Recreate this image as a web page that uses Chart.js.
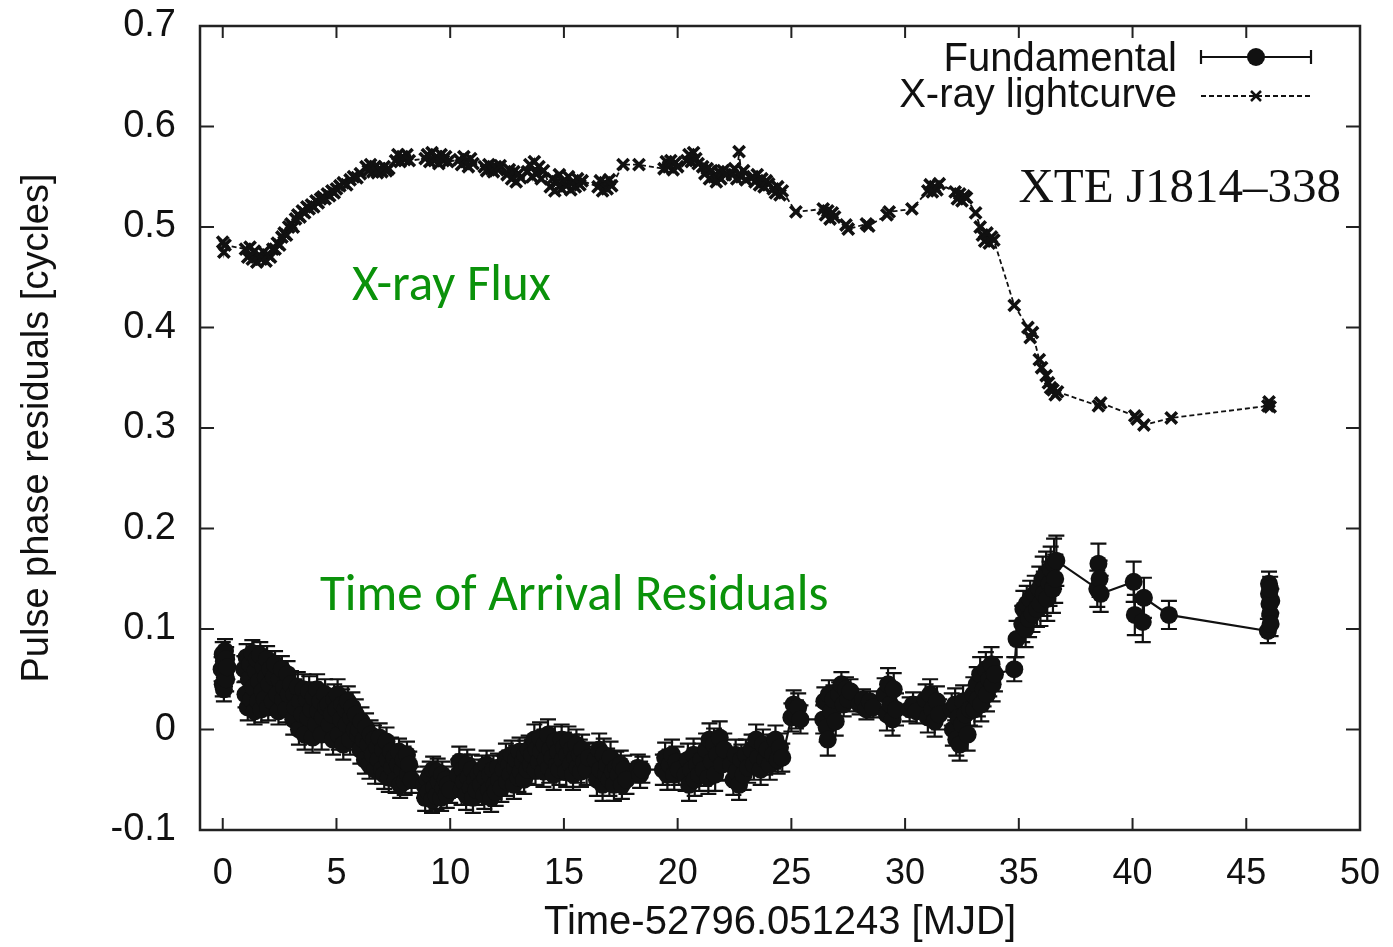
<!DOCTYPE html>
<html>
<head>
<meta charset="utf-8">
<script src="https://cdn.jsdelivr.net/npm/chart.js@4.4.1/dist/chart.umd.min.js"></script>
<style>
  html, body { margin: 0; padding: 0; background: #fff; }
  #wrap { width: 1393px; height: 947px; }
</style>
</head>
<body>
<div id="wrap"><canvas id="chart" width="1393" height="947"></canvas></div>
<script>
// Fundamental: pulse phase residuals (time, phase, error), one row per cluster
const fundTime = [
  -0.05, 0.0, 0.0, 0.05, 0.05, 0.1, 0.1, 0.15, 0.15, 0.2,
  0.95, 1.0, 1.05, 1.1, 1.15, 1.2, 1.25, 1.3, 1.35, 1.4, 1.45, 1.5, 1.55, 1.6, 1.65, 1.7, 1.75, 1.8, 1.85, 1.9, 1.95, 2.0, 2.05, 2.1, 2.2, 2.25, 2.3, 2.4, 2.45, 2.5, 2.6, 2.65, 2.7, 2.8, 2.85, 2.9, 3.0,
  3.1, 3.15, 3.2, 3.3, 3.35, 3.4, 3.5, 3.55, 3.6, 3.7, 3.75, 3.8, 3.9, 3.95, 4.0, 4.1, 4.15, 4.2, 4.3, 4.35, 4.4, 4.5, 4.55,
  4.65, 4.7, 4.8, 4.85, 4.9, 5.0, 5.05, 5.1, 5.2, 5.25, 5.3, 5.4, 5.45, 5.5, 5.6, 5.65, 5.7, 5.8, 5.85, 5.95,
  6.0, 6.05, 6.1, 6.2, 6.25, 6.3, 6.4, 6.45, 6.5, 6.6, 6.65, 6.7, 6.8, 6.85, 6.9, 7.0, 7.05, 7.1, 7.2, 7.25, 7.3, 7.4, 7.45,
  7.55, 7.6, 7.7, 7.75, 7.8, 7.9, 7.95, 8.0, 8.1, 8.15, 8.2, 8.3,
  8.85, 8.9, 9.0, 9.05, 9.1, 9.2, 9.25, 9.3, 9.4, 9.45, 9.5, 9.6, 9.65, 9.7, 9.8, 9.85, 9.9, 10.0,
  10.35, 10.4, 10.5, 10.55, 10.6, 10.7, 10.75, 10.8, 10.9, 10.95, 11.0, 11.1, 11.15, 11.25,
  11.35, 11.4, 11.5, 11.55, 11.6, 11.7, 11.75, 11.8, 11.9, 11.95, 12.0, 12.1, 12.15, 12.25,
  12.35, 12.45, 12.5, 12.6, 12.65, 12.7, 12.8, 12.85, 12.9, 13.0, 13.05, 13.1, 13.2, 13.25, 13.3, 13.4, 13.45, 13.55,
  13.6, 13.7, 13.75, 13.8, 13.9, 13.95, 14.0, 14.1, 14.15, 14.2, 14.3, 14.35, 14.4, 14.5, 14.55, 14.6, 14.7, 14.75, 14.8, 14.9, 14.95, 15.0, 15.1, 15.15, 15.2, 15.3, 15.35, 15.4, 15.5, 15.55, 15.6, 15.7, 15.75, 15.8, 15.9, 16.0, 16.1,
  16.4, 16.45, 16.55, 16.6, 16.7, 16.75, 16.85, 16.9, 17.0, 17.05, 17.15, 17.2, 17.3,
  17.4, 17.5, 17.55, 17.65, 17.75,
  18.25, 18.35, 18.45,
  19.35, 19.45, 19.55, 19.65, 19.75, 19.85, 19.95, 20.05,
  20.35, 20.45, 20.5, 20.6, 20.7, 20.75, 20.85, 20.95, 21.05,
  21.15, 21.25, 21.35, 21.4, 21.5, 21.6, 21.65, 21.75, 21.85, 21.95, 22.05,
  22.35, 22.45, 22.55, 22.6, 22.7, 22.8, 22.9, 23.0, 23.1,
  23.25, 23.35, 23.45, 23.55, 23.65, 23.75, 23.85, 23.95, 24.05,
  24.2, 24.3, 24.4, 24.5, 24.6,
  25.0, 25.1, 25.2, 25.3, 25.4,
  26.4, 26.45, 26.55, 26.6, 26.65, 26.75, 26.85, 26.95,
  27.1, 27.2, 27.3, 27.4, 27.5, 27.6,
  28.0, 28.15, 28.3, 28.45, 28.6,
  29.1, 29.2, 29.25, 29.35, 29.45, 29.5, 29.6,
  30.2, 30.35, 30.5,
  30.9, 31.0, 31.1, 31.2, 31.3, 31.4, 31.5,
  32.05, 32.1, 32.2, 32.25, 32.35, 32.4, 32.5, 32.55, 32.65, 32.75, 32.85,
  33.0, 33.05, 33.15, 33.2, 33.3, 33.35, 33.45, 33.55, 33.6, 33.7, 33.8, 33.85, 33.95,
  34.8, 34.9,
  35.15, 35.2, 35.3, 35.35, 35.45, 35.5, 35.6, 35.7, 35.8,
  35.9, 35.95, 36.05, 36.1, 36.2, 36.25, 36.35, 36.4, 36.5, 36.55, 36.6, 36.65,
  38.45, 38.5, 38.55, 38.6,
  40.05, 40.1, 40.45, 40.5,
  41.6,
  45.95, 46.0, 46.0, 46.02, 46.05, 46.07, 46.1, 46.05
];
const fundPhase = [
  0.06, 0.075, 0.045, 0.068, 0.04, 0.078, 0.055, 0.05, 0.07, 0.062,
  0.06, 0.035, 0.072, 0.022, 0.05, 0.065, 0.03, 0.076, 0.042, 0.018, 0.058, 0.07, 0.028, 0.048, 0.074, 0.02, 0.038, 0.062, 0.03, 0.052, 0.07, 0.022, 0.045, 0.06, 0.028, 0.052, 0.065, 0.035, 0.018, 0.05, 0.06, 0.03, 0.042, 0.02, 0.055, 0.035, 0.045,
  0.01, 0.035, 0.022, 0.042, 0.0, 0.028, 0.015, 0.04, -0.005, 0.03, 0.012, 0.038, 0.02, -0.008, 0.032, 0.005, 0.04, 0.018, 0.028, -0.005, 0.012, 0.035, 0.022,
  0.025, 0.005, 0.015, -0.01, 0.03, 0.02, 0.035, -0.005, 0.01, 0.025, -0.015, 0.02, 0.005, 0.028, -0.01, 0.012, 0.022, 0.0, 0.015, -0.005,
  0.0, -0.02, 0.008, -0.01, -0.03, 0.002, -0.015, -0.035, -0.005, -0.025, -0.01, -0.04, -0.018, -0.03, -0.008, -0.04, -0.02, -0.045, -0.012, -0.03, -0.048, -0.022, -0.038,
  -0.028, -0.05, -0.035, -0.022, -0.055, -0.04, -0.03, -0.052, -0.025, -0.045, -0.035, -0.05,
  -0.055, -0.068, -0.05, -0.062, -0.045, -0.07, -0.04, -0.058, -0.066, -0.042, -0.052, -0.068, -0.045, -0.058, -0.05, -0.065, -0.055, -0.06,
  -0.045, -0.032, -0.06, -0.04, -0.052, -0.065, -0.035, -0.048, -0.058, -0.04, -0.068, -0.05, -0.06, -0.045,
  -0.055, -0.04, -0.065, -0.048, -0.035, -0.06, -0.045, -0.068, -0.04, -0.055, -0.062, -0.038, -0.05, -0.058,
  -0.04, -0.028, -0.052, -0.035, -0.045, -0.025, -0.055, -0.038, -0.03, -0.048, -0.022, -0.042, -0.032, -0.05, -0.025, -0.04, -0.02, -0.035,
  -0.025, -0.01, -0.04, -0.02, -0.032, -0.008, -0.022, -0.042, -0.015, -0.03, -0.005, -0.038, -0.02, -0.028, -0.045, -0.012, -0.035, -0.022, -0.04, -0.01, -0.03, -0.018, -0.042, -0.025, -0.012, -0.035, -0.02, -0.045, -0.028, -0.015, -0.038, -0.025, -0.042, -0.02, -0.032, -0.04, -0.028,
  -0.03, -0.05, -0.02, -0.04, -0.055, -0.025, -0.045, -0.035, -0.05, -0.028, -0.042, -0.055, -0.038,
  -0.045, -0.035, -0.055, -0.04, -0.05,
  -0.038, -0.045, -0.04,
  -0.04, -0.028, -0.045, -0.035, -0.025, -0.045, -0.032, -0.04,
  -0.045, -0.03, -0.055, -0.04, -0.025, -0.05, -0.035, -0.045, -0.03,
  -0.04, -0.02, -0.048, -0.01, -0.032, -0.015, -0.045, -0.025, -0.008, -0.035, -0.02,
  -0.035, -0.05, -0.025, -0.042, -0.055, -0.03, -0.045, -0.025, -0.038,
  -0.02, -0.035, -0.01, -0.028, -0.04, -0.015, -0.03, -0.02, -0.035,
  -0.025, -0.01, -0.03, -0.018, -0.028,
  0.012, 0.025, 0.015, 0.022, 0.01,
  0.01, 0.028, 0.002, -0.01, 0.035, 0.018, 0.03, 0.008,
  0.035, 0.045, 0.025, 0.04, 0.03, 0.038,
  0.025, 0.03, 0.02, 0.028, 0.022,
  0.035, 0.015, 0.045, 0.025, 0.01, 0.04, 0.02,
  0.02, 0.025, 0.018,
  0.03, 0.012, 0.035, 0.02, 0.008, 0.028, 0.015,
  0.02, 0.0, 0.025, -0.01, 0.012, -0.015, 0.005, 0.028, 0.015, -0.005, 0.02,
  0.035, 0.02, 0.045, 0.03, 0.055, 0.025, 0.04, 0.06, 0.035, 0.05, 0.065, 0.045, 0.055,
  0.06, 0.09,
  0.105, 0.12, 0.1, 0.125, 0.11, 0.13, 0.115, 0.135, 0.12,
  0.14, 0.125, 0.15, 0.135, 0.155, 0.13, 0.145, 0.16, 0.14, 0.165, 0.15, 0.168,
  0.14, 0.165, 0.15, 0.135,
  0.147, 0.114, 0.107, 0.131,
  0.114,
  0.098, 0.145, 0.135, 0.125, 0.115, 0.105, 0.128, 0.14
];
const fundErr = [
  0.012, 0.012, 0.012, 0.012, 0.012, 0.012, 0.012, 0.012, 0.012, 0.012,
  0.013, 0.013, 0.013, 0.013, 0.013, 0.013, 0.013, 0.013, 0.013, 0.013, 0.013, 0.013, 0.013, 0.013, 0.013, 0.013, 0.013, 0.013, 0.013, 0.013, 0.013, 0.013, 0.013, 0.013, 0.013, 0.013, 0.013, 0.013, 0.013, 0.013, 0.013, 0.013, 0.013, 0.013, 0.013, 0.013, 0.013,
  0.015, 0.015, 0.015, 0.015, 0.015, 0.015, 0.015, 0.015, 0.015, 0.015, 0.015, 0.015, 0.015, 0.015, 0.015, 0.015, 0.015, 0.015, 0.015, 0.015, 0.015, 0.015, 0.015,
  0.015, 0.015, 0.015, 0.015, 0.015, 0.015, 0.015, 0.015, 0.015, 0.015, 0.015, 0.015, 0.015, 0.015, 0.015, 0.015, 0.015, 0.015, 0.015, 0.015,
  0.014, 0.014, 0.014, 0.014, 0.014, 0.014, 0.014, 0.014, 0.014, 0.014, 0.014, 0.014, 0.014, 0.014, 0.014, 0.014, 0.014, 0.014, 0.014, 0.014, 0.014, 0.014, 0.014,
  0.013, 0.013, 0.013, 0.013, 0.013, 0.013, 0.013, 0.013, 0.013, 0.013, 0.013, 0.013,
  0.013, 0.013, 0.013, 0.013, 0.013, 0.013, 0.013, 0.013, 0.013, 0.013, 0.013, 0.013, 0.013, 0.013, 0.013, 0.013, 0.013, 0.013,
  0.015, 0.015, 0.015, 0.015, 0.015, 0.015, 0.015, 0.015, 0.015, 0.015, 0.015, 0.015, 0.015, 0.015,
  0.014, 0.014, 0.014, 0.014, 0.014, 0.014, 0.014, 0.014, 0.014, 0.014, 0.014, 0.014, 0.014, 0.014,
  0.014, 0.014, 0.014, 0.014, 0.014, 0.014, 0.014, 0.014, 0.014, 0.014, 0.014, 0.014, 0.014, 0.014, 0.014, 0.014, 0.014, 0.014,
  0.015, 0.015, 0.015, 0.015, 0.015, 0.015, 0.015, 0.015, 0.015, 0.015, 0.015, 0.015, 0.015, 0.015, 0.015, 0.015, 0.015, 0.015, 0.015, 0.015, 0.015, 0.015, 0.015, 0.015, 0.015, 0.015, 0.015, 0.015, 0.015, 0.015, 0.015, 0.015, 0.015, 0.015, 0.015, 0.015, 0.015,
  0.016, 0.016, 0.016, 0.016, 0.016, 0.016, 0.016, 0.016, 0.016, 0.016, 0.016, 0.016, 0.016,
  0.014, 0.014, 0.014, 0.014, 0.014,
  0.013, 0.013, 0.013,
  0.015, 0.015, 0.015, 0.015, 0.015, 0.015, 0.015, 0.015,
  0.016, 0.016, 0.016, 0.016, 0.016, 0.016, 0.016, 0.016, 0.016,
  0.016, 0.016, 0.016, 0.016, 0.016, 0.016, 0.016, 0.016, 0.016, 0.016, 0.016,
  0.015, 0.015, 0.015, 0.015, 0.015, 0.015, 0.015, 0.015, 0.015,
  0.015, 0.015, 0.015, 0.015, 0.015, 0.015, 0.015, 0.015, 0.015,
  0.014, 0.014, 0.014, 0.014, 0.014,
  0.014, 0.014, 0.014, 0.014, 0.014,
  0.014, 0.014, 0.014, 0.016, 0.014, 0.014, 0.014, 0.014,
  0.012, 0.012, 0.012, 0.012, 0.012, 0.012,
  0.01, 0.01, 0.01, 0.01, 0.01,
  0.016, 0.016, 0.016, 0.016, 0.016, 0.016, 0.016,
  0.012, 0.012, 0.012,
  0.015, 0.015, 0.015, 0.015, 0.015, 0.015, 0.015,
  0.016, 0.016, 0.016, 0.016, 0.016, 0.016, 0.016, 0.016, 0.016, 0.016, 0.016,
  0.017, 0.017, 0.017, 0.017, 0.017, 0.017, 0.017, 0.017, 0.017, 0.017, 0.017, 0.017, 0.017,
  0.012, 0.018,
  0.018, 0.018, 0.018, 0.018, 0.018, 0.018, 0.018, 0.018, 0.018,
  0.022, 0.022, 0.022, 0.022, 0.022, 0.022, 0.022, 0.022, 0.024, 0.025, 0.024, 0.025,
  0.018, 0.02, 0.018, 0.018,
  0.02, 0.02, 0.02, 0.02,
  0.014,
  0.012, 0.012, 0.012, 0.012, 0.012, 0.012, 0.012, 0.012
];

// X-ray lightcurve (time, scaled flux), one row per cluster
const xrayTime = [
  0.0, 0.05, 0.1,
  1.0, 1.1, 1.2, 1.3, 1.4, 1.5, 1.6, 1.7, 1.8, 1.9, 2.0, 2.1, 2.2,
  2.3, 2.4, 2.5, 2.6, 2.7, 2.8, 2.9, 3.0, 3.1, 3.2, 3.3, 3.4, 3.5, 3.6, 3.7, 3.8, 3.9, 4.0, 4.1, 4.2, 4.3, 4.4, 4.5, 4.6, 4.7, 4.8, 4.9, 5.0, 5.15, 5.3, 5.45, 5.6, 5.75, 5.9, 6.05,
  6.3, 6.4, 6.5, 6.6, 6.7, 6.8, 6.9, 7.0, 7.1, 7.2, 7.3, 7.6, 7.7, 7.8, 7.9, 8.0, 8.1, 8.2,
  8.9, 9.0, 9.1, 9.2, 9.3, 9.4, 9.5, 9.6, 9.7, 9.8, 9.9,
  10.4, 10.5, 10.6, 10.7, 10.8, 10.9, 11.0,
  11.5, 11.6, 11.7, 11.8, 11.9, 12.0, 12.1, 12.2,
  12.5, 12.6, 12.7, 12.8, 12.9, 13.0, 13.1,
  13.4, 13.5, 13.6, 13.7, 13.8, 13.9, 14.0, 14.1,
  14.4, 14.5, 14.6, 14.7, 14.8, 14.9, 15.0, 15.1, 15.2, 15.3, 15.4, 15.5, 15.6, 15.7, 15.8,
  16.5, 16.6, 16.7, 16.8, 16.9, 17.0, 17.1,
  17.6, 18.3,
  19.4, 19.5, 19.6, 19.7, 19.8, 19.9, 20.0,
  20.4, 20.5, 20.6, 20.7, 20.8, 20.9,
  21.1, 21.2, 21.3, 21.4, 21.5, 21.6, 21.7, 21.8, 21.9, 22.0, 22.1,
  22.4, 22.5, 22.6, 22.7, 22.8, 22.9, 23.0,
  23.3, 23.4, 23.5, 23.6, 23.7, 23.8, 23.9, 24.0,
  24.2, 24.3, 24.4, 24.5, 24.6,
  25.2,
  26.4, 26.5, 26.6, 26.7, 26.8, 26.9,
  27.4, 27.5, 28.3, 28.4,
  29.2, 29.3, 30.3,
  31.0, 31.1, 31.2, 31.3, 31.4, 31.5,
  32.2, 32.3, 32.4, 32.5, 32.6, 32.7,
  33.1, 33.3, 33.4, 33.5, 33.6, 33.7, 33.8, 33.9,
  34.8, 35.4, 35.5, 35.6, 35.9, 36.0, 36.2, 36.3, 36.4, 36.5, 36.6, 36.7,
  38.5, 38.6, 40.1, 40.2, 40.5, 41.7, 45.95, 46.0, 46.05
];
const xrayFlux = [
  0.485, 0.475, 0.482,
  0.478, 0.47, 0.48, 0.468, 0.476, 0.465, 0.472, 0.468, 0.475, 0.466, 0.472, 0.47, 0.478,
  0.478, 0.484, 0.482, 0.49, 0.494, 0.492, 0.5, 0.503, 0.5, 0.508, 0.512, 0.51, 0.516, 0.514, 0.52, 0.518, 0.522, 0.52, 0.526, 0.524, 0.528, 0.53, 0.528, 0.533, 0.531, 0.536, 0.534, 0.538, 0.541, 0.544, 0.542, 0.547, 0.55, 0.549, 0.553,
  0.56, 0.556, 0.562, 0.555, 0.56, 0.554, 0.558, 0.555, 0.56, 0.556, 0.558, 0.566, 0.572, 0.565, 0.57, 0.567, 0.572, 0.566,
  0.568, 0.572, 0.565, 0.574, 0.566, 0.57, 0.563, 0.572, 0.566, 0.57, 0.565,
  0.567, 0.562, 0.57, 0.565, 0.56, 0.568, 0.563,
  0.56, 0.556, 0.562, 0.558, 0.555, 0.56, 0.557, 0.561,
  0.552, 0.557, 0.548, 0.555, 0.545, 0.553, 0.549,
  0.555, 0.562, 0.55, 0.565, 0.553, 0.56, 0.548, 0.556,
  0.54, 0.548, 0.536, 0.545, 0.552, 0.538, 0.546, 0.541, 0.55, 0.537, 0.545, 0.54, 0.548, 0.542, 0.546,
  0.54, 0.546, 0.536, 0.544, 0.538, 0.547, 0.541,
  0.562, 0.562,
  0.558, 0.565, 0.56, 0.566, 0.557, 0.564, 0.56,
  0.566, 0.572, 0.565, 0.574, 0.568, 0.563,
  0.56, 0.553, 0.558, 0.548, 0.556, 0.55, 0.545, 0.555, 0.548, 0.556, 0.552,
  0.552, 0.558, 0.548, 0.575, 0.55, 0.556, 0.547,
  0.55, 0.545, 0.552, 0.542, 0.548, 0.54, 0.546, 0.543,
  0.538, 0.534, 0.54, 0.532, 0.536,
  0.515,
  0.518, 0.512, 0.516, 0.508, 0.514, 0.51,
  0.502, 0.498, 0.503, 0.501,
  0.512, 0.515, 0.518,
  0.536, 0.542, 0.535, 0.54, 0.537, 0.543,
  0.535, 0.528, 0.533, 0.526, 0.531, 0.529,
  0.514, 0.5, 0.492, 0.486, 0.494, 0.484, 0.49, 0.487,
  0.422, 0.4, 0.39, 0.395, 0.368, 0.36, 0.352, 0.345, 0.34, 0.338, 0.333, 0.336,
  0.322, 0.325, 0.312, 0.309, 0.303, 0.31, 0.322, 0.326, 0.321
];

const xTicks = [0, 5, 10, 15, 20, 25, 30, 35, 40, 45, 50];
const yTicks = [-0.1, 0, 0.1, 0.2, 0.3, 0.4, 0.5, 0.6, 0.7];

const ink = '#111';
const sansFont = "'Liberation Sans', Arial, Helvetica, sans-serif";

const fundPoints = fundTime.map((t, i) => ({ x: t, y: fundPhase[i], err: fundErr[i] }));
const xrayPoints = xrayTime.map((t, i) => ({ x: t, y: xrayFlux[i] }));

// vertical error bars with caps, drawn beneath the markers
const errorBars = {
  id: 'errorBars',
  beforeDatasetsDraw(chart) {
    const ctx = chart.ctx;
    const xs = chart.scales.x, ys = chart.scales.y;
    ctx.save();
    ctx.strokeStyle = ink;
    ctx.lineWidth = 2.2;
    fundPoints.forEach(p => {
      const px = xs.getPixelForValue(p.x);
      const top = ys.getPixelForValue(p.y + p.err);
      const bot = ys.getPixelForValue(p.y - p.err);
      ctx.beginPath();
      ctx.moveTo(px, top); ctx.lineTo(px, bot);
      ctx.moveTo(px - 8, top); ctx.lineTo(px + 8, top);
      ctx.moveTo(px - 8, bot); ctx.lineTo(px + 8, bot);
      ctx.stroke();
    });
    ctx.restore();
  }
};

// gnuplot-style frame with inward ticks, legend and labels
const frameAndText = {
  id: 'frameAndText',
  afterDraw(chart) {
    const ctx = chart.ctx;
    const a = chart.chartArea;
    const xs = chart.scales.x, ys = chart.scales.y;
    ctx.save();
    ctx.strokeStyle = '#222';
    ctx.lineWidth = 2.5;
    ctx.strokeRect(a.left, a.top, a.right - a.left, a.bottom - a.top);
    ctx.lineWidth = 2;
    ctx.beginPath();
    xTicks.forEach(v => {
      const px = xs.getPixelForValue(v);
      ctx.moveTo(px, a.bottom); ctx.lineTo(px, a.bottom - 12);
      ctx.moveTo(px, a.top); ctx.lineTo(px, a.top + 12);
    });
    yTicks.forEach(v => {
      const py = ys.getPixelForValue(v);
      ctx.moveTo(a.left, py); ctx.lineTo(a.left + 14, py);
      ctx.moveTo(a.right, py); ctx.lineTo(a.right - 14, py);
    });
    ctx.stroke();

    // legend
    ctx.fillStyle = ink;
    ctx.font = '40px ' + sansFont;
    ctx.textAlign = 'right';
    ctx.textBaseline = 'alphabetic';
    ctx.fillText('Fundamental', 1177, 71);
    ctx.fillText('X-ray lightcurve', 1177, 107);

    ctx.strokeStyle = ink;
    ctx.lineWidth = 2.2;
    ctx.beginPath();
    ctx.moveTo(1201, 57); ctx.lineTo(1311, 57);
    ctx.moveTo(1201, 50); ctx.lineTo(1201, 64);
    ctx.moveTo(1311, 50); ctx.lineTo(1311, 64);
    ctx.stroke();
    ctx.beginPath();
    ctx.arc(1256, 57, 9, 0, Math.PI * 2);
    ctx.fill();

    ctx.lineWidth = 1.8;
    ctx.setLineDash([5, 3]);
    ctx.beginPath();
    ctx.moveTo(1201, 96); ctx.lineTo(1311, 96);
    ctx.stroke();
    ctx.setLineDash([]);
    ctx.lineWidth = 2.5;
    ctx.beginPath();
    ctx.moveTo(1251, 91); ctx.lineTo(1261, 101);
    ctx.moveTo(1261, 91); ctx.lineTo(1251, 101);
    ctx.stroke();

    // source name
    ctx.font = "49px 'Liberation Serif', 'Times New Roman', serif";
    ctx.textAlign = 'right';
    ctx.fillText('XTE J1814\u2013338', 1341, 202);

    // green annotations
    ctx.fillStyle = '#0a920a';
    ctx.font = "51px Carlito, Lato, 'Open Sans', sans-serif";
    ctx.textAlign = 'left';
    ctx.textBaseline = 'middle';
    ctx.fillText('X-ray Flux', 352, 287);
    ctx.fillText('Time of Arrival Residuals', 320, 597);
    ctx.restore();
  }
};

new Chart(document.getElementById('chart'), {
  type: 'scatter',
  data: {
    datasets: [
      {
        label: 'X-ray lightcurve',
        data: xrayPoints,
        showLine: true,
        borderColor: ink,
        borderWidth: 1.8,
        borderDash: [5, 3],
        pointStyle: 'crossRot',
        pointRadius: 8,
        pointBorderWidth: 3.6,
        pointBorderColor: ink,
        pointBackgroundColor: ink
      },
      {
        label: 'Fundamental',
        data: fundPoints,
        showLine: true,
        borderColor: ink,
        borderWidth: 2.2,
        pointStyle: 'circle',
        pointRadius: 9,
        pointBorderWidth: 0,
        pointBackgroundColor: ink
      }
    ]
  },
  options: {
    responsive: false,
    animation: false,
    events: [],
    layout: { padding: { top: 26, right: 33, left: 0, bottom: 0 } },
    plugins: {
      legend: { display: false },
      tooltip: { enabled: false }
    },
    scales: {
      x: {
        type: 'linear',
        min: -1,
        max: 50,
        afterBuildTicks: s => { s.ticks = xTicks.map(v => ({ value: v })); },
        afterFit: s => { s.height = 117; s.paddingLeft = 0; s.paddingRight = 0; },
        grid: { display: false, drawTicks: false },
        border: { display: false },
        ticks: {
          padding: 22,
          color: ink,
          font: { family: sansFont, size: 36 },
          maxRotation: 0
        },
        title: {
          display: true,
          text: 'Time-52796.051243 [MJD]',
          color: ink,
          font: { family: sansFont, size: 40 },
          padding: { top: 0, bottom: 0 }
        }
      },
      y: {
        type: 'linear',
        min: -0.1,
        max: 0.7,
        afterBuildTicks: s => { s.ticks = yTicks.map(v => ({ value: v })); },
        afterFit: s => { s.width = 200; s.paddingTop = 0; s.paddingBottom = 0; },
        grid: { display: false, drawTicks: false },
        border: { display: false },
        ticks: {
          padding: 24,
          color: ink,
          font: { family: sansFont, size: 38 },
          callback: v => String(+v.toFixed(1))
        },
        title: {
          display: true,
          text: 'Pulse phase residuals [cycles]',
          color: ink,
          font: { family: sansFont, size: 38 },
          padding: { top: 15, bottom: 0 }
        }
      }
    }
  },
  plugins: [errorBars, frameAndText]
});
</script>
</body>
</html>
